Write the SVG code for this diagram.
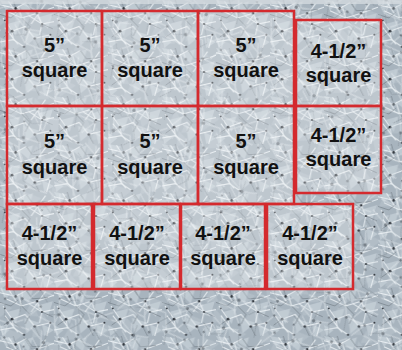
<svg xmlns="http://www.w3.org/2000/svg" width="402" height="350" viewBox="0 0 402 350">
  <style>
    .sq { fill: #ffffff; fill-opacity: 0.25; stroke: #d42a2e; stroke-width: 2.5; }
    .lbl { font-family: "Liberation Sans", Arial, sans-serif; font-weight: bold; font-size: 20px; fill: #111111; text-anchor: middle; }
  </style>
  <defs>
    <g id="shards">
      <g fill="#c7d1d9" opacity="0.7">
        <polygon points="0,0 22,4 10,18"/>
        <polygon points="30,10 55,2 48,26"/>
        <polygon points="60,30 88,22 80,48"/>
        <polygon points="12,40 34,34 26,60"/>
        <polygon points="40,50 66,58 44,76"/>
        <polygon points="70,60 90,70 74,80"/>
        <polygon points="0,62 16,70 4,80"/>
      </g>
      <g stroke="#eef3f6" stroke-width="1.8" fill="none" opacity="0.85">
        <path d="M0,8 L26,14 L44,4 M10,18 L36,30 L62,22 L90,12"/>
        <path d="M5,30 L20,52 L42,44 L58,64 L84,58"/>
        <path d="M48,26 L70,40 L90,36 M30,10 L36,30 M62,22 L70,40 L66,58"/>
        <path d="M0,70 L22,66 L40,78 M20,52 L22,66 M84,58 L78,80"/>
        <path d="M14,2 L28,24 M52,40 L76,6 M8,46 L30,74"/>
      </g>
      <g stroke="#5f6870" stroke-width="1" fill="none" opacity="0.8">
        <path d="M0,24 L18,30 L30,20 M44,4 L54,18 L80,16 M36,30 L50,44 L42,60"/>
        <path d="M58,64 L66,80 M70,40 L88,48 M20,52 L6,62 M26,14 L22,0"/>
      </g>
      <g fill="#353b42">
        <circle cx="26" cy="14" r="2.2"/>
        <circle cx="62" cy="22" r="2"/>
        <circle cx="20" cy="52" r="2.3"/>
        <circle cx="70" cy="40" r="1.8"/>
        <circle cx="58" cy="64" r="2.1"/>
        <circle cx="84" cy="58" r="1.7"/>
        <circle cx="40" cy="78" r="1.8"/>
        <circle cx="8" cy="34" r="1.5"/>
      </g>
    </g>
    <pattern id="glass" width="90" height="80" patternUnits="userSpaceOnUse" patternTransform="scale(0.6)">
      <rect width="90" height="80" fill="#a8b4be"/>
      <use href="#shards"/>
    </pattern>
    <pattern id="glass2" width="90" height="80" patternUnits="userSpaceOnUse" patternTransform="translate(17 9) rotate(37) scale(0.75)">
      <use href="#shards"/>
    </pattern>
  </defs>

  <rect width="402" height="350" fill="url(#glass)"/>
  <rect width="402" height="350" fill="url(#glass2)" opacity="0.45"/>
  <rect x="0" y="0" width="402" height="4" fill="#d9dee2" opacity="0.7"/>

  <g id="sq-r1c1"><rect class="sq" x="7" y="11" width="95" height="95"/><text class="lbl" x="54.5" y="52">5”</text><text class="lbl" x="54.5" y="77">square</text></g>
  <g id="sq-r1c2"><rect class="sq" x="102" y="11" width="96" height="95"/><text class="lbl" x="150" y="52">5”</text><text class="lbl" x="150" y="77">square</text></g>
  <g id="sq-r1c3"><rect class="sq" x="198" y="11" width="96" height="95"/><text class="lbl" x="246" y="52">5”</text><text class="lbl" x="246" y="77">square</text></g>
  <g id="sq-r1c4"><rect class="sq" x="296" y="20" width="85" height="86"/><text class="lbl" x="338.5" y="58">4-1/2”</text><text class="lbl" x="338.5" y="82">square</text></g>

  <g id="sq-r2c1"><rect class="sq" x="7" y="106" width="95" height="98"/><text class="lbl" x="54.5" y="148">5”</text><text class="lbl" x="54.5" y="174">square</text></g>
  <g id="sq-r2c2"><rect class="sq" x="102" y="106" width="96" height="98"/><text class="lbl" x="150" y="148">5”</text><text class="lbl" x="150" y="174">square</text></g>
  <g id="sq-r2c3"><rect class="sq" x="198" y="106" width="96" height="98"/><text class="lbl" x="246" y="148">5”</text><text class="lbl" x="246" y="174">square</text></g>
  <g id="sq-r2c4"><rect class="sq" x="296" y="106" width="85" height="87"/><text class="lbl" x="338.5" y="142">4-1/2”</text><text class="lbl" x="338.5" y="166">square</text></g>

  <g id="sq-r3c1"><rect class="sq" x="7" y="204" width="85" height="85"/><text class="lbl" x="49.5" y="240">4-1/2”</text><text class="lbl" x="49.5" y="265">square</text></g>
  <g id="sq-r3c2"><rect class="sq" x="94" y="204" width="86" height="85"/><text class="lbl" x="137" y="240">4-1/2”</text><text class="lbl" x="137" y="265">square</text></g>
  <g id="sq-r3c3"><rect class="sq" x="181" y="204" width="84" height="85"/><text class="lbl" x="223" y="240">4-1/2”</text><text class="lbl" x="223" y="265">square</text></g>
  <g id="sq-r3c4"><rect class="sq" x="267" y="204" width="86" height="85"/><text class="lbl" x="310" y="240">4-1/2”</text><text class="lbl" x="310" y="265">square</text></g>

  <g id="connectors"></g>
</svg>
